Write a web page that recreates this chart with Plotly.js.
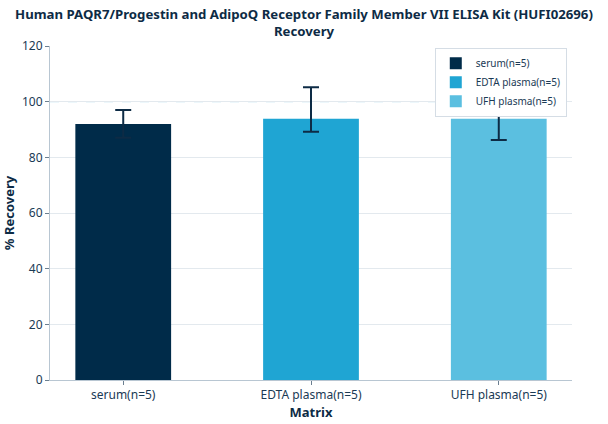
<!DOCTYPE html>
<html><head><meta charset="utf-8">
<script src="https://cdn.plot.ly/plotly-3.0.1.min.js"></script>
<style>body{margin:0;background:#fff}#c{width:608px;height:424px}</style>
</head><body><div id="c"></div>
<script>
const categories = ["serum(n=5)", "EDTA plasma(n=5)", "UFH plasma(n=5)"];
const recovery = [92.0, 93.9, 93.9];
const errPlus = [5.0, 11.3, 11.5];
const errMinus = [5.0, 4.7, 7.7];
const colors = ["#002b49", "#1fa5d3", "#5bbfe0"];
const yTicks = [0, 20, 40, 60, 80, 100, 120];

const traces = categories.map((c, i) => ({
  type: "bar",
  name: c,
  x: [c],
  y: [recovery[i]],
  width: 0.51,
  marker: {color: colors[i]},
  error_y: {type: "data", symmetric: false, array: [errPlus[i]], arrayminus: [errMinus[i]],
            color: "#0d2b45", thickness: 2, width: 8, visible: true}
}));

const layout = {
  width: 608, height: 424,
  margin: {l: 50, r: 36, t: 46, b: 44},
  font: {family: "Noto Sans, sans-serif", color: "#1a3a55", size: 12},
  title: {text: "<b>Human PAQR7/Progestin and AdipoQ Receptor Family Member VII ELISA Kit (HUFI02696)<br>Recovery</b>",
          font: {size: 13.2, color: "#0d2b45"}, x: 0.5, xanchor: "center", y: 0.956, yanchor: "middle"},
  barmode: "overlay",
  showlegend: true,
  legend: {x: 0.99, xanchor: "right", y: 0.995, yanchor: "top", bgcolor: "#ffffff",
           bordercolor: "#d5dde5", borderwidth: 1, font: {size: 10, color: "#1a3a55"},
           tracegroupgap: 0, itemwidth: 30},
  xaxis: {type: "category", range: [-0.39, 2.39], showline: true, linecolor: "#b8c6d2", linewidth: 1,
          ticks: "outside", tickcolor: "#6b7f90", ticklen: 4,
          title: {text: "<b>Matrix</b>", font: {size: 13, color: "#0d2b45"}, standoff: 4}},
  yaxis: {range: [0, 120], tickvals: yTicks, showline: true, linecolor: "#b8c6d2", linewidth: 1,
          ticks: "outside", tickcolor: "#6b7f90", ticklen: 4, gridcolor: "#e3e9ee", zeroline: false,
          title: {text: "<b>% Recovery</b>", font: {size: 13, color: "#0d2b45"}, standoff: 6}},
  shapes: [{type: "line", xref: "paper", x0: 0, x1: 1, yref: "y", y0: 100, y1: 100,
            line: {color: "#8ecae6", width: 1, dash: "dash"}, layer: "below"}],
  plot_bgcolor: "#ffffff", paper_bgcolor: "#ffffff"
};
Plotly.newPlot("c", traces, layout, {displayModeBar: false});
</script></body></html>
